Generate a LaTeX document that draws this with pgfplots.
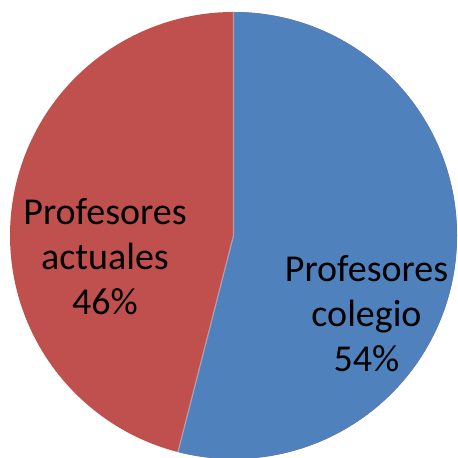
\documentclass[border=0pt]{standalone}
\usepackage{fontspec}
\setmainfont{Carlito}
\usepackage{pgfplots}
\usepackage{pgfplotstable}
\pgfplotsset{compat=1.18}
\definecolor{pieblue}{HTML}{4F81BD}
\definecolor{piered}{HTML}{C0504D}
\pgfplotstableread{
label value
colegio 54
actuales 46
}\piedata
\pgfplotstablegetelem{0}{value}\of\piedata \let\va\pgfplotsretval
\pgfplotstablegetelem{1}{value}\of\piedata \let\vb\pgfplotsretval
\pgfmathsetmacro\angA{90-3.6*\va}
\pgfmathsetmacro\angB{\angA-3.6*\vb}
\begin{document}
\begin{tikzpicture}
\begin{axis}[
  x=0.5pt, y=0.5pt,
  xmin=-233.5, xmax=224.5,
  ymin=-222.5, ymax=235.5,
  hide axis, clip=false,
]
\coordinate (ll) at (axis cs:-233.5,-222.5);
\coordinate (ur) at (axis cs:224.5,235.5);
\fill[piered] (axis cs:0,0) -- (axis cs:0,223.5) arc[start angle=90, end angle=\angB, radius=111.75pt] -- cycle;
\fill[pieblue] (axis cs:0,0) -- (axis cs:0,223.5) arc[start angle=90, end angle=\angA, radius=111.75pt] -- cycle;
\draw[white, opacity=0.35, line width=0.6pt] (axis cs:0,223.5) -- (axis cs:0,0) -- ++(\angA:111.75pt);
\node[align=center, font=\fontsize{19}{22.5}\selectfont, inner sep=0pt, anchor=center]
  at (axis cs:133,-78) {Profesores\\colegio\\\va\%};
\node[align=center, font=\fontsize{19}{22.5}\selectfont, inner sep=0pt, anchor=center]
  at (axis cs:-128.5,-21.5) {Profesores\\actuales\\\vb\%};
\end{axis}
\pgfresetboundingbox
\path (ll) rectangle (ur);
\end{tikzpicture}
\end{document}
